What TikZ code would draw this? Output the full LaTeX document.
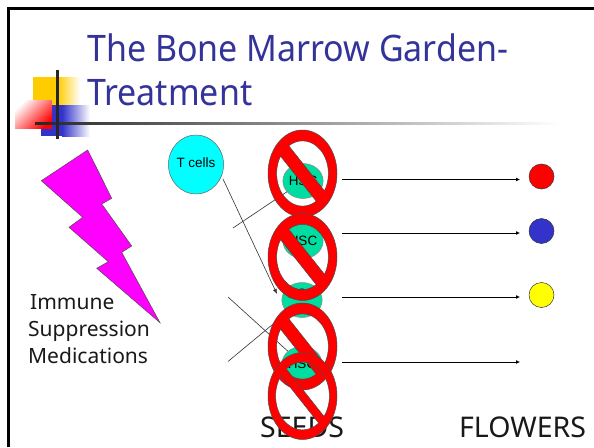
\documentclass[tikz,border=0pt]{standalone}
\usepackage{fontspec}
\setmainfont{Noto Sans}
\newfontfamily\arialf{Liberation Sans}
\newfontfamily\titlef[FakeStretch=0.93]{Noto Sans}
\usetikzlibrary{arrows.meta,shapes.geometric}
\definecolor{titleblue}{HTML}{333399}
\definecolor{seedgreen}{HTML}{00DDA0}
\definecolor{flowerblue}{HTML}{3333CC}
\definecolor{purecyan}{HTML}{00FFFF}
\definecolor{puremagenta}{HTML}{FF00FF}
\definecolor{purered}{HTML}{FF0000}
\definecolor{pureyellow}{HTML}{FFFF00}
\definecolor{logoyellow}{HTML}{FFCC00}
\tikzset{
  x=1pt,y=-1pt,
  seed/.style={ellipse,draw=black!45,line width=.5pt,fill=seedgreen,minimum width=40pt,minimum height=35pt,inner sep=0pt,font=\arialf\fontsize{13.5}{14}\selectfont},
  flower/.style={circle,draw=black!80,line width=.5pt,minimum size=25pt,inner sep=0pt},
  thinline/.style={draw=black!80,line width=.6pt},
  flowarrow/.style={draw=black,line width=1pt,-{Latex[length=4pt,width=4pt]}},
  bigtext/.style={anchor=base west,inner sep=0pt,font=\fontsize{28.5}{30}\selectfont,text=black!90},
  midtext/.style={anchor=base west,inner sep=0pt,font=\fontsize{21}{22}\selectfont,text=black!90},
  titletext/.style={anchor=base west,inner sep=0pt,font=\titlef\fontsize{36.5}{40}\selectfont,text=titleblue},
  nosym/.pic={
    \fill[purered,draw=black!70,line width=.5pt,even odd rule]
      (0,0) circle [radius=1]
      (-32:.75) arc [start angle=-32,end angle=122,radius=.75] -- cycle
      (148:.75) arc [start angle=148,end angle=302,radius=.75] -- cycle;
  },
  nosymthin/.pic={
    \fill[purered,draw=black!70,line width=.5pt,even odd rule]
      (0,0) circle [radius=1]
      (-37:.78) arc [start angle=-37,end angle=127,radius=.78] -- cycle
      (143:.78) arc [start angle=143,end angle=307,radius=.78] -- cycle;
  },
}
\begin{document}
\begin{tikzpicture}
\useasboundingbox (0,0) rectangle (594,447);
\fill[white] (0,0) rectangle (594,447);
% frame
\draw[black!45,line width=3.6pt] (8.5,447) -- (8.5,8.5) -- (594,8.5);
\draw[black,line width=2.2pt] (8.5,447) -- (8.5,8.5) -- (594,8.5);
% logo
\fill[logoyellow] (33,77) rectangle (58,105);
\shade[left color=logoyellow,right color=white] (58,77) rectangle (80,105);
\fill[flowerblue] (41,105) rectangle (62,136);
\shade[left color=flowerblue,right color=white] (62,105) rectangle (90,136);
\shade[shading=axis,top color=purered,bottom color=white,shading angle=-135] (15,100) rectangle (52,128);
\shade[left color=black!85,middle color=black!35,right color=white] (35,122) rectangle (560,124);
\fill[black!85] (55.7,70) rectangle (58.7,139);
% title
\node[titletext] (title1) at (87,61) {The Bone Marrow Garden-};
\node[titletext] (title2) at (87,105) {Treatment};
% bolt
\filldraw[fill=puremagenta,draw=black!70,line width=.5pt,line join=miter]
 (87.7,150)--(111.7,198.3)--(101.7,204)--(131.7,246)--(121.7,252.3)--(160,322.7)
 --(96.7,268.3)--(108.3,261.7)--(69,227.3)--(82.7,217.3)--(41.3,180.7)--cycle;
\node[midtext] (t1) at (30,309) {Immune};
\node[midtext] (t2) at (28,336) {Suppression};
\node[midtext] (t3) at (28,363) {Medications};
% T cells
\node[ellipse,draw=black!60,line width=.5pt,fill=purecyan,minimum width=54pt,minimum height=59pt,inner sep=0pt,font=\arialf\fontsize{13.5}{14}\selectfont] (tc) at (196,164.5) {\raisebox{3pt}{T cells}};
% seeds
\node[seed] (s1) at (303,181) {HSC};
\node[seed] (s2) at (303,241) {HSC};
\node[seed] (s3) at (302,300) {\raisebox{12pt}{HSC}};
\node[seed] (s4) at (302,364) {HSC};
% flowers
\node[flower,fill=purered] (f1) at (541.5,176.5) {};
\node[flower,fill=flowerblue] (f2) at (541.5,231) {};
\node[flower,fill=pureyellow] (f3) at (541.5,295) {};
\coordinate (f4) at (520,362);
% thin connectors
\coordinate (a1) at (233,228);
\coordinate (a2) at (228,297);
\coordinate (a3) at (228,361.5);
\coordinate (b0) at (223,179);
\coordinate (b1) at (277,294);
\draw[thinline] (a1) -- (s1);
\draw[thinline,-{Latex[length=5pt,width=4pt]}] (b0) -- (b1);
\draw[thinline] (a2) -- (s4);
\draw[thinline] (a3) -- (s3);
% arrows
\coordinate (o1) at (342,179.5);
\coordinate (o2) at (342,233);
\coordinate (o3) at (342,297);
\coordinate (o4) at (342,362);
\coordinate (e1) at (520,179.5);
\coordinate (e2) at (520,233);
\coordinate (e3) at (520,297);
\draw[flowarrow] (o1) -- (e1);
\draw[flowarrow] (o2) -- (e2);
\draw[flowarrow] (o3) -- (e3);
\draw[flowarrow] (o4) -- (f4);
% labels
\node[bigtext] (seeds) at (260,437) {SEEDS};
\node[bigtext] (flowers) at (459,437) {FLOWERS};
% no symbols
\coordinate (n1) at (302.5,173.5);
\coordinate (n2) at (302.5,257);
\coordinate (n3) at (302.5,346.5);
\coordinate (n4) at (302.5,396);
\pic[x=34.5pt,y=43.5pt] at (n1) {nosym};
\pic[x=34.5pt,y=43.5pt] at (n2) {nosym};
\pic[x=34.5pt,y=43.5pt] at (n3) {nosym};
\pic[x=34.5pt,y=43.5pt] at (n4) {nosymthin};
\end{tikzpicture}
\end{document}
